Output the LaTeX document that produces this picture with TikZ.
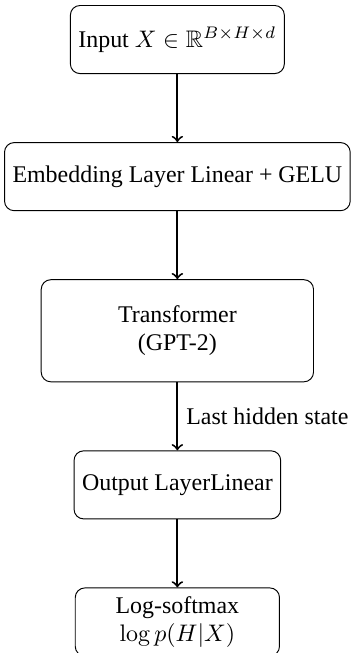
\documentclass[tikz,border=0pt]{standalone}
\usepackage{amssymb}
\usepackage[no-math]{fontspec}
\setmainfont{Liberation Serif}
\usetikzlibrary{positioning}
\tikzset{
  blockbox/.style={draw, rounded corners, align=center, minimum height=1cm},
  flow/.style={->, thick},
  every picture/.style={node distance=1cm}
}
\begin{document}
\begin{tikzpicture}
\node[blockbox] (input) {Input $X \in \mathbb{R}^{B\times H\times d}$};
\node[blockbox, below=of input] (embed) {Embedding Layer Linear + GELU};
\node[blockbox, below=of embed, minimum width=4cm, minimum height=1.5cm] (trans) {Transformer\\(GPT-2)};
\node[blockbox, below=of trans, minimum width=3cm] (out) {Output LayerLinear};
\node[blockbox, below=of out, minimum width=3cm] (soft) {Log-softmax\\$\log p(H|X)$};
\draw[flow] (input) -- (embed);
\draw[flow] (embed) -- (trans);
\draw[flow] (trans) -- node[right] {Last hidden state} (out);
\draw[flow] (out) -- (soft);
\coordinate (tl) at ([shift={(-1.7pt,0)}]embed.west);
\coordinate (tt) at ([shift={(0,2.1pt)}]input.north);
\coordinate (br) at ([shift={(0.4pt,0)}]embed.east);
\coordinate (bb) at ([shift={(0,-27.4pt)}]soft.north);
\pgfresetboundingbox
\useasboundingbox (tl |- tt) rectangle (br |- bb);
\end{tikzpicture}
\end{document}
